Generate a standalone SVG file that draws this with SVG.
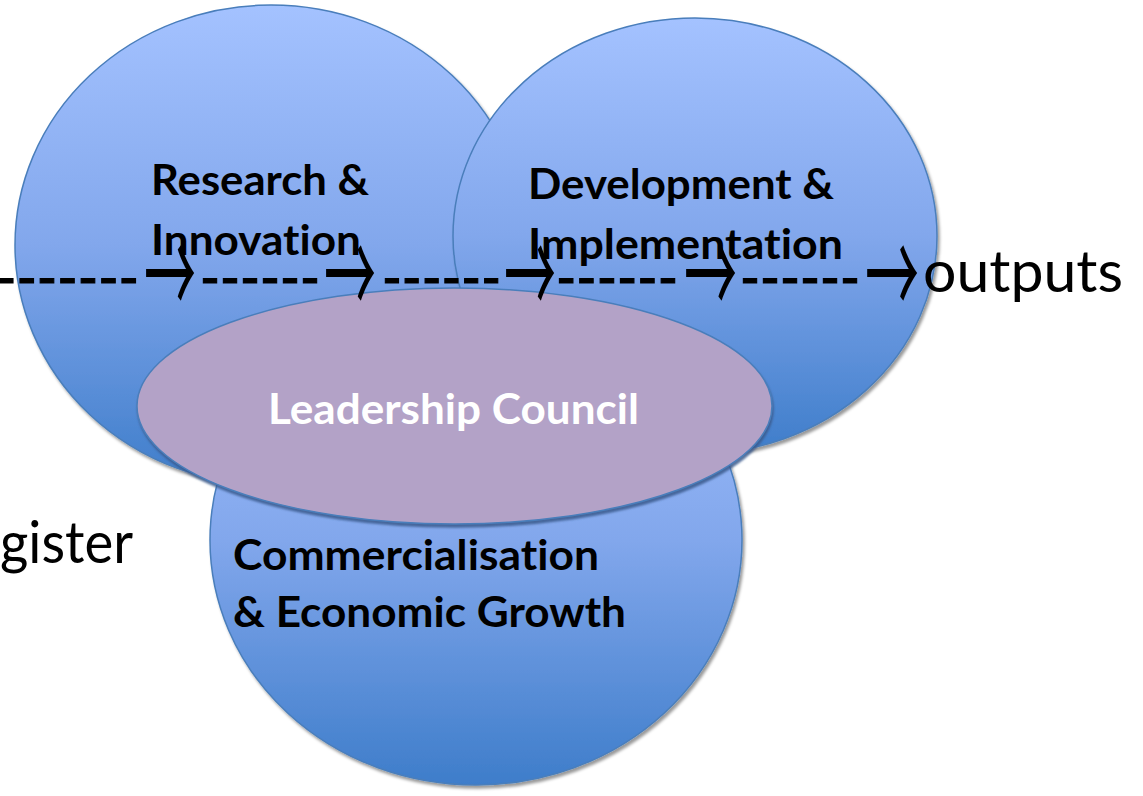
<svg xmlns="http://www.w3.org/2000/svg" width="1143" height="796" viewBox="0 0 1143 796">
  <style>
    .circle { fill: url(#blueGrad); stroke: #4a7ebb; stroke-width: 1.5; filter: url(#sh); }
    .council { fill: #b3a2c7; stroke: #4a7ebb; stroke-width: 1.5; filter: url(#rim); }
    text { font-variant-ligatures: none; font-feature-settings: "liga" 0, "clig" 0; }
    .title { font-family: Lato, "Open Sans", "Liberation Sans", sans-serif; font-weight: bold; font-size: 42px; fill: #000; }
    .white { fill: #fff; }
    .big { font-family: Lato, "Open Sans", "Liberation Sans", sans-serif; font-size: 58px; fill: #000; }
    .dash { font-family: Lato, "Open Sans", "Liberation Sans", sans-serif; font-size: 58px; fill: #000; stroke: #000; stroke-width: 1.2; }
    .arrow { font-family: "Noto Sans CJK JP", "DejaVu Sans", sans-serif; font-weight: 400; font-size: 118px; fill: #000; }
  </style>
  <defs>
    <linearGradient id="blueGrad" x1="0" y1="0" x2="0" y2="1">
      <stop offset="0" stop-color="#a4c2ff"/>
      <stop offset="0.5" stop-color="#82a7ec"/>
      <stop offset="1" stop-color="#3e7dca"/>
    </linearGradient>
    <filter id="sh" x="-5%" y="-5%" width="115%" height="115%">
      <feDropShadow dx="2" dy="3" stdDeviation="1.5" flood-color="#000" flood-opacity="0.4"/>
    </filter>
    <filter id="rim" x="-5%" y="-5%" width="115%" height="120%">
      <feDropShadow dx="1" dy="3" stdDeviation="1" flood-color="#3a5a8c" flood-opacity="0.85"/>
    </filter>
  </defs>
  <rect width="1143" height="796" fill="#fff"/>

  <g id="commercialisation">
    <ellipse class="circle" cx="476" cy="540" rx="266" ry="245"/>
    <text class="title" x="233" y="570" textLength="366" lengthAdjust="spacingAndGlyphs">Commercialisation</text>
    <text class="title" x="233" y="627" textLength="393" lengthAdjust="spacingAndGlyphs">&amp; Economic Growth</text>
  </g>

  <g id="research">
    <ellipse class="circle" cx="271" cy="245" rx="256" ry="240"/>
  </g>

  <g id="development">
    <ellipse class="circle" cx="695" cy="236" rx="242" ry="218"/>
  </g>

  <g id="leadership">
    <ellipse class="council" cx="454.5" cy="406" rx="317.5" ry="118"/>
    <text class="title white" x="268" y="424" textLength="371" lengthAdjust="spacingAndGlyphs">Leadership Council</text>
  </g>

  <g id="labels">
    <text class="title" x="151" y="195" textLength="218" lengthAdjust="spacingAndGlyphs">Research &amp;</text>
    <text class="title" x="151" y="255" textLength="210" lengthAdjust="spacingAndGlyphs">Innovation</text>
    <text class="title" x="528" y="199" textLength="306" lengthAdjust="spacingAndGlyphs">Development &amp;</text>
    <text class="title" x="528" y="259" textLength="315" lengthAdjust="spacingAndGlyphs">Implementation</text>
  </g>

  <g id="connectors">
    <text class="dash" x="-4" y="298" textLength="143" lengthAdjust="spacingAndGlyphs">-------</text>
    <text class="arrow" x="144" y="318" textLength="52" lengthAdjust="spacingAndGlyphs">→</text>
    <text class="dash" x="200" y="298" textLength="120" lengthAdjust="spacingAndGlyphs">------</text>
    <text class="arrow" x="324" y="318" textLength="52" lengthAdjust="spacingAndGlyphs">→</text>
    <text class="dash" x="382" y="298" textLength="119" lengthAdjust="spacingAndGlyphs">------</text>
    <text class="arrow" x="504" y="318" textLength="52" lengthAdjust="spacingAndGlyphs">→</text>
    <text class="dash" x="556" y="298" textLength="122" lengthAdjust="spacingAndGlyphs">------</text>
    <text class="arrow" x="684" y="318" textLength="53" lengthAdjust="spacingAndGlyphs">→</text>
    <text class="dash" x="740" y="298" textLength="120" lengthAdjust="spacingAndGlyphs">------</text>
    <text class="arrow" x="865" y="318" textLength="54" lengthAdjust="spacingAndGlyphs">→</text>
  </g>

  <g id="free-text">
    <text class="big" x="923" y="292" textLength="200" lengthAdjust="spacingAndGlyphs">outputs</text>
    <text class="big" x="0" y="563" textLength="133" lengthAdjust="spacingAndGlyphs">gister</text>
  </g>
</svg>
